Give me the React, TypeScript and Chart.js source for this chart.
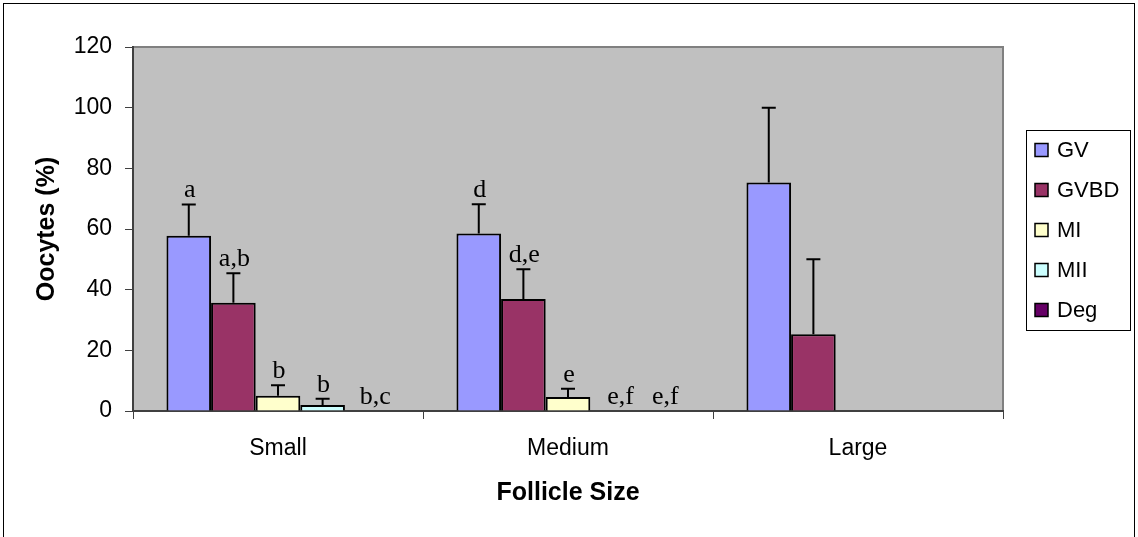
import React, { useEffect, useRef } from 'react';
import { Chart, registerables } from 'chart.js';

Chart.register(...registerables);

const categories = ['Small', 'Medium', 'Large'];
const seriesNames = ['GV', 'GVBD', 'MI', 'MII', 'Deg'];
const seriesColors = ['#9999FF', '#993366', '#FFFFCC', '#CCFFFF', '#660066'];

const gvValues = [57.8, 58.5, 75.3];
const gvbdValues = [35.7, 36.9, 25.3];
const miValues = [5.0, 4.6, 0];
const miiValues = [2.0, 0, 0];
const degValues = [0, 0, 0];

const gvErrors = [10.3, 9.7, 24.7];
const gvbdErrors = [9.7, 9.8, 24.7];
const miErrors = [3.5, 2.7, 0];
const miiErrors = [2.0, 0, 0];
const degErrors = [0, 0, 0];

const gvLetters = ['a', 'd', ''];
const gvbdLetters = ['a,b', 'd,e', ''];
const miLetters = ['b', 'e', ''];
const miiLetters = ['b', 'e,f', ''];
const degLetters = ['b,c', 'e,f', ''];

const yTickValues = [0, 20, 40, 60, 80, 100, 120];
const yAxisTitle = 'Oocytes (%)';
const xAxisTitle = 'Follicle Size';

const SANS = '"Liberation Sans", Arial, sans-serif';
const SERIF = '"Liberation Serif", "Times New Roman", serif';

const allValues = [gvValues, gvbdValues, miValues, miiValues, degValues];
const allErrors = [gvErrors, gvbdErrors, miErrors, miiErrors, degErrors];
const allLetters = [gvLetters, gvbdLetters, miLetters, miiLetters, degLetters];

const decorPlugin = {
  id: 'decor',
  beforeDraw(chart: any) {
    const ctx = chart.ctx;
    const { left, top, right, bottom } = chart.chartArea;
    ctx.save();
    ctx.fillStyle = '#FFFFFF';
    ctx.fillRect(0, 0, chart.width, chart.height);
    ctx.strokeStyle = '#000000';
    ctx.lineWidth = 1;
    ctx.strokeRect(3.5, 3.5, 1131, 560);
    ctx.fillStyle = '#C0C0C0';
    ctx.fillRect(left, top, right - left, bottom - top);
    ctx.strokeStyle = '#808080';
    ctx.lineWidth = 2;
    ctx.strokeRect(left, top, right - left, bottom - top);
    ctx.restore();
  },
  afterDatasetsDraw(chart: any) {
    const ctx = chart.ctx;
    const yScale = chart.scales.y;
    ctx.save();
    allValues.forEach((vals, di) => {
      const meta = chart.getDatasetMeta(di);
      vals.forEach((v, i) => {
        const bar = meta.data[i];
        if (!bar) return;
        const err = allErrors[di][i];
        const x = bar.x;
        const yBase = yScale.getPixelForValue(v);
        const yTop = yScale.getPixelForValue(v + err);
        if (err > 0) {
          ctx.strokeStyle = '#000000';
          ctx.lineWidth = 2;
          ctx.beginPath();
          ctx.moveTo(x, yBase);
          ctx.lineTo(x, yTop);
          ctx.moveTo(x - 7, yTop);
          ctx.lineTo(x + 7, yTop);
          ctx.stroke();
        }
        const letter = allLetters[di][i];
        if (letter) {
          ctx.fillStyle = '#000000';
          ctx.font = `26px ${SERIF}`;
          ctx.textAlign = 'center';
          ctx.textBaseline = 'alphabetic';
          ctx.fillText(letter, x + (v + err === 0 ? 8 : 1), yTop - 7);
        }
      });
    });
    ctx.restore();
  },
  afterDraw(chart: any) {
    const ctx = chart.ctx;
    const { left, top, right, bottom } = chart.chartArea;
    ctx.save();
    ctx.fillStyle = '#000000';
    ctx.font = `bold 25px ${SANS}`;
    ctx.textAlign = 'center';
    ctx.textBaseline = 'middle';
    ctx.fillText(xAxisTitle, (left + right) / 2, 493);
    ctx.save();
    ctx.translate(47, (top + bottom) / 2);
    ctx.rotate(-Math.PI / 2);
    ctx.fillText(yAxisTitle, 0, 0);
    ctx.restore();
    // legend
    const lx = 1026;
    const ly = 130;
    const lw = 104;
    const lh = 200;
    ctx.fillStyle = '#FFFFFF';
    ctx.fillRect(lx, ly, lw, lh);
    ctx.strokeStyle = '#000000';
    ctx.lineWidth = 1;
    ctx.strokeRect(lx + 0.5, ly + 0.5, lw, lh);
    ctx.font = `22px ${SANS}`;
    ctx.textAlign = 'left';
    ctx.textBaseline = 'middle';
    seriesNames.forEach((name, i) => {
      const cy = ly + 20 + i * 40;
      ctx.fillStyle = seriesColors[i];
      ctx.fillRect(lx + 9, cy - 6.5, 13, 13);
      ctx.strokeStyle = '#000000';
      ctx.lineWidth = 1.5;
      ctx.strokeRect(lx + 9, cy - 6.5, 13, 13);
      ctx.fillStyle = '#000000';
      ctx.fillText(name, lx + 31, cy + 1);
    });
    ctx.restore();
  },
};

export default function App() {
  const canvasRef = useRef<HTMLCanvasElement | null>(null);

  useEffect(() => {
    const canvas = canvasRef.current;
    if (!canvas) return;
    const chart = new Chart(canvas, {
      type: 'bar',
      data: {
        labels: categories,
        datasets: seriesNames.map((name, i) => ({
          label: name,
          data: allValues[i],
          backgroundColor: seriesColors[i],
          borderColor: '#000000',
          borderWidth: 2,
          borderSkipped: 'bottom',
          categoryPercentage: 5 / 6.5,
          barPercentage: 1.0,
        })),
      },
      options: {
        responsive: false,
        animation: false,
        layout: { padding: { left: 0, top: 47, right: 135, bottom: 0 } },
        plugins: {
          legend: { display: false },
          tooltip: { enabled: false },
        },
        scales: {
          x: {
            grid: {
              display: true,
              drawOnChartArea: false,
              drawTicks: true,
              tickLength: 8,
              color: '#404040',
              lineWidth: 1,
              offset: true,
            },
            border: { display: true, color: '#404040', width: 2 },
            ticks: {
              color: '#000000',
              font: { family: SANS, size: 23 },
              padding: 16,
            },
            afterFit(scale: any) {
              scale.height = 126;
            },
          },
          y: {
            min: 0,
            max: 120,
            afterBuildTicks(scale: any) {
              scale.ticks = yTickValues.map((v) => ({ value: v }));
            },
            grid: {
              display: true,
              drawOnChartArea: false,
              drawTicks: true,
              tickLength: 8,
              color: '#404040',
              lineWidth: 1,
            },
            border: { display: true, color: '#404040', width: 2 },
            ticks: {
              color: '#000000',
              font: { family: SANS, size: 23 },
              padding: 13,
            },
            afterFit(scale: any) {
              scale.width = 133;
            },
          },
        },
      },
      plugins: [decorPlugin],
    });
    return () => {
      chart.destroy();
    };
  }, []);

  return (
    <div style={{ position: 'fixed', left: 0, top: 0, width: 1138, height: 537, background: '#fff' }}>
      <canvas ref={canvasRef} width={1138} height={537} style={{ display: 'block' }} />
    </div>
  );
}
